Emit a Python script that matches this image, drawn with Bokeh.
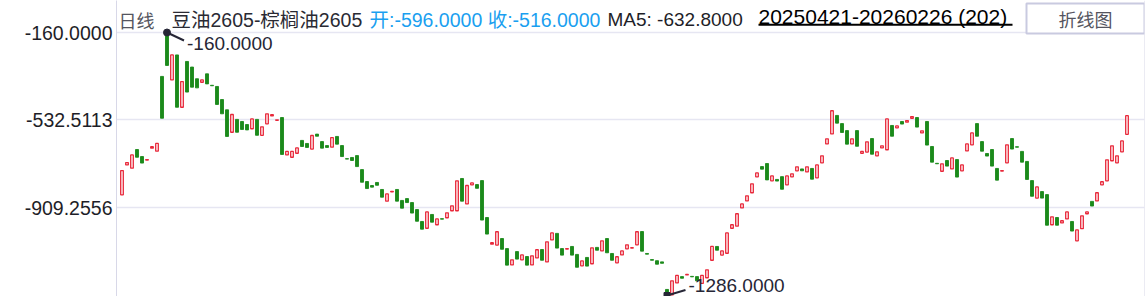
import numpy as np
from bokeh.plotting import figure
from bokeh.models import Range1d, FixedTicker, PrintfTickFormatter, Span
from bokeh.core.properties import value
from bokeh.embed import file_html
from bokeh.resources import INLINE

# ---------------- data ----------------
OPEN = [
    -855, -727, -741, -661, -691, -706, -655, -668, -348, -160,
    -363, -256, -480, -284, -308, -358, -373, -337, -386, -391,
    -447, -491, -587, -532, -541, -554, -572, -532, -600, -551,
    -517, -536, -524, -684, -694, -677, -622, -635, -659, -595,
    -627, -644, -651, -605, -644, -700, -695, -687, -747, -798,
    -815, -802, -832, -882, -842, -832, -879, -871, -888, -918,
    -969, -998, -939, -983, -957, -953, -923, -923, -785, -894,
    -812, -811, -794, -952, -1066, -1070, -1042, -1085, -1155, -1098,
    -1133, -1119, -1155, -1125, -1089, -1142, -1048, -1020, -1085, -1087,
    -1076, -1110, -1159, -1123, -1150, -1080, -1095, -1042, -1106, -1146,
    -1112, -1086, -1083, -1069, -1012, -1106, -1132, -1137, -1142, -1260,
    -1283, -1232, -1205, -1198, -1204, -1205, -1234, -1210, -1135, -1076,
    -1113, -1105, -998, -989, -911, -881, -846, -778, -734, -721,
    -795, -789, -777, -812, -778, -752, -744, -757, -742, -782,
    -718, -637, -594, -515, -550, -580, -637, -580, -677, -672,
    -614, -688, -654, -662, -558, -568, -541, -544, -527, -524,
    -590, -541, -648, -720, -754, -708, -744, -704, -752, -667,
    -641, -550, -627, -678, -661, -742, -753, -718, -614, -649,
    -669, -712, -794, -869, -841, -854, -983, -952, -975, -958,
    -969, -1052, -1000, -936, -883, -881, -812, -795, -709, -718,
    -671, -596,
]
CLOSE = [
    -751, -717, -684, -694, -719, -704, -649, -635, -527, -301,
    -256, -480, -370, -415, -394, -397, -363, -380, -388, -468,
    -508, -605, -511, -587, -575, -577, -530, -600, -564, -508,
    -512, -534, -682, -669, -669, -654, -648, -652, -601, -604,
    -655, -652, -610, -638, -691, -702, -708, -734, -801, -828,
    -822, -814, -865, -851, -840, -882, -912, -888, -933, -968,
    -1002, -928, -972, -958, -959, -932, -902, -795, -882, -815,
    -804, -827, -963, -1023, -1060, -1013, -1088, -1156, -1133, -1130,
    -1112, -1156, -1116, -1090, -1135, -1056, -1018, -1083, -1113, -1085,
    -1113, -1165, -1138, -1160, -1082, -1092, -1052, -1103, -1135, -1120,
    -1095, -1069, -1081, -1013, -1096, -1109, -1135, -1152, -1148, -1286,
    -1223, -1200, -1212, -1196, -1206, -1223, -1200, -1176, -1076, -1092,
    -1095, -1018, -983, -936, -894, -859, -808, -761, -745, -791,
    -774, -796, -831, -774, -765, -735, -752, -735, -788, -727,
    -688, -615, -495, -548, -588, -638, -615, -647, -669, -628,
    -681, -671, -645, -530, -604, -560, -552, -537, -520, -565,
    -581, -642, -715, -722, -722, -732, -697, -779, -727, -637,
    -590, -604, -668, -689, -732, -792, -751, -641, -659, -651,
    -715, -789, -861, -821, -869, -985, -949, -985, -966, -928,
    -1010, -1005, -945, -928, -903, -846, -799, -705, -645, -688,
    -624, -516,
]
Y_TICKS = [-160.0, -532.5113, -909.2556]

HEADER_PERIOD = "日线"
HEADER_NAME = "豆油2605-棕榈油2605"
HEADER_OC = "开:-596.0000 收:-516.0000"
HEADER_MA = "MA5: -632.8000"
HEADER_RANGE = "20250421-20260226 (202)"
BUTTON_TEXT = "折线图"

# ---------------- layout / style ----------------
W, H = 1146, 296
LEFT, RIGHT = 116, 2
PX_PER_BAR = 5.0
UNITS_PER_PX = 4.281
TOP_PX = 32
FIRST_BAR_PX = 121.5

RED = "#e8283a"
GREEN = "#1b8a1b"
DARK = "#262636"
BLUE = "#1a9ff0"
GRID = "#e6e6f2"
AXIS = "#d8d8e8"
FONT = "Liberation Sans, Noto Sans CJK SC"
CJK = "Noto Sans CJK SC, Liberation Sans"

o = np.array(OPEN, dtype=float)
c = np.array(CLOSE, dtype=float)
idx = np.arange(len(o))
hi_vals = np.maximum(o, c)
lo_vals = np.minimum(o, c)
vmax = hi_vals.max()
vmin = lo_vals.min()
imax = int(hi_vals.argmax())
imin = int(lo_vals.argmin())

x0 = -(FIRST_BAR_PX - LEFT) / PX_PER_BAR
x_range = Range1d(x0, x0 + (W - LEFT - RIGHT) / PX_PER_BAR)
y_end = vmax + TOP_PX * UNITS_PER_PX
y_range = Range1d(y_end - H * UNITS_PER_PX, y_end)


def X(px):
    return x0 + (px - LEFT) / PX_PER_BAR


def Y(py):
    return y_end - py * UNITS_PER_PX


p = figure(width=W, height=H, output_backend="svg", toolbar_location=None,
           x_range=x_range, y_range=y_range,
           min_border_left=LEFT, min_border_right=RIGHT,
           min_border_top=0, min_border_bottom=0,
           background_fill_color="white", border_fill_color="white")
p.outline_line_color = None
p.xaxis.visible = False
p.xgrid.visible = False

ax = p.yaxis[0]
ax.ticker = FixedTicker(ticks=Y_TICKS)
ax.formatter = PrintfTickFormatter(format="%.4f")
ax.major_label_text_font = "Liberation Sans"
ax.major_label_text_font_size = "19.5px"
ax.major_label_text_color = "#1e1e28"
ax.major_tick_line_color = None
ax.minor_tick_line_color = None
ax.major_tick_out = 0
ax.major_tick_in = 0
ax.minor_tick_out = 0
ax.axis_line_color = AXIS
ax.major_label_standoff = 4
p.ygrid.ticker = FixedTicker(ticks=Y_TICKS)
p.ygrid.grid_line_color = GRID
p.ygrid.grid_line_width = 1.5

p.add_layout(Span(location=X(1144), dimension="height", line_color=AXIS, line_width=1))

# candles
up = c >= o
dn = ~up
p.vbar(x=idx[up], width=0.52, top=c[up], bottom=o[up],
       fill_color="white", line_color=RED, line_width=1.3)
p.vbar(x=idx[dn], width=0.6, top=o[dn], bottom=c[dn],
       fill_color=GREEN, line_color=GREEN, line_width=0.9)

# high / low annotations
p.scatter([imax], [vmax], size=7, color=DARK)
p.segment(x0=[imax], y0=[vmax], x1=[imax + 17 / PX_PER_BAR], y1=[vmax - 8 * UNITS_PER_PX],
          line_color=DARK, line_width=2)
p.text(x=[imax + 20 / PX_PER_BAR], y=[vmax - 11 * UNITS_PER_PX], text=["%.4f" % vmax],
       text_font=value("Liberation Sans"), text_font_size="19px", text_color=DARK,
       text_baseline="middle", text_align="left")

p.scatter([imin], [vmin], size=6, color=DARK, marker="square")
p.segment(x0=[imin], y0=[vmin], x1=[imin + 18.5 / PX_PER_BAR], y1=[vmin + 5.5 * UNITS_PER_PX],
          line_color=DARK, line_width=2)
p.text(x=[imin + 21.5 / PX_PER_BAR], y=[vmin + 9.7 * UNITS_PER_PX], text=["%.4f" % vmin],
       text_font=value("Liberation Sans"), text_font_size="19px", text_color=DARK,
       text_baseline="middle", text_align="left")

# header
BASE = 19
p.text(x=[X(118)], y=[Y(BASE)], text=[HEADER_PERIOD], text_font=value(CJK),
       text_font_size="18px", text_color="#555560", text_baseline="alphabetic")
p.text(x=[X(171)], y=[Y(BASE)], text=[HEADER_NAME], text_font=value(FONT),
       text_font_size="19.5px", text_color="#2a2a33", text_baseline="alphabetic")
p.text(x=[X(369)], y=[Y(BASE)], text=[HEADER_OC], text_font=value(FONT),
       text_font_size="19.5px", text_color=BLUE, text_baseline="alphabetic")
p.text(x=[X(607)], y=[Y(BASE)], text=[HEADER_MA], text_font=value(FONT),
       text_font_size="19px", text_color="#1e1e28", text_baseline="alphabetic")
p.text(x=[X(758)], y=[Y(BASE - 3)], text=[HEADER_RANGE], text_font=value("Liberation Sans"),
       text_font_size="21px", text_color="#000000", text_baseline="alphabetic")
p.segment(x0=[X(758)], y0=[Y(24.3)], x1=[X(1012)], y1=[Y(24.3)], line_color="#000000", line_width=2)

p.quad(left=[X(1026)], right=[X(1144)], top=[Y(3)], bottom=[Y(33)],
       fill_color="white", line_color="#c9cae0", line_width=2)
p.text(x=[X(1085)], y=[Y(18)], text=[BUTTON_TEXT], text_font=value(CJK),
       text_font_size="18px", text_color="#555560", text_baseline="middle", text_align="center")

open("out.html", "w").write(file_html(p, INLINE))
